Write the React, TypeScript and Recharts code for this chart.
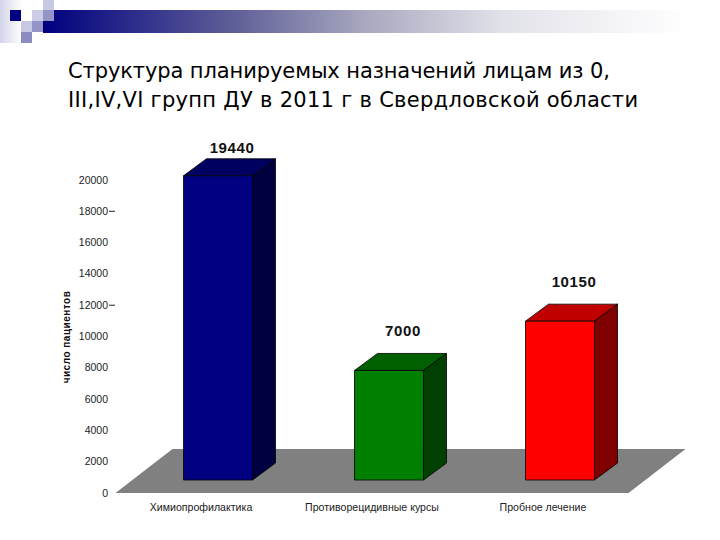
import { BarChart, Bar, XAxis, YAxis, ReferenceArea, LabelList } from "recharts";

const categories = ["Химиопрофилактика", "Противорецидивные курсы", "Пробное лечение"];
const patients = [19440, 7000, 10150];
const yTicks = [0, 2000, 4000, 6000, 8000, 10000, 12000, 14000, 16000, 18000, 20000];
const markedTicks = [12000, 18000];
const titleLines = [
  "Структура планируемых назначений лицам из 0,",
  "III,IV,VI групп ДУ в 2011 г в Свердловской области",
];

const front = ["#000080", "#008000", "#ff0000"];
const top = ["#000060", "#006000", "#c00000"];
const side = ["#000040", "#004000", "#800000"];

const data = categories.map((name, i) => ({ name, patients: patients[i] }));

// axis labels sit on the floor's front edge, bars stand 13px further back
const PX_PER_UNIT = 313 / 20000;
const BASE_SHIFT = 13 / PX_PER_UNIT;
const LABEL_SHIFT = 13;
const DEPTH_X = 23;
const DEPTH_Y = 17;
const FLOOR_TOP = 2811;

function Bar3D(props: any) {
  const { x, y, width, height, index } = props;
  const r = x + width;
  const b = y + height;
  return (
    <g stroke="#000" strokeWidth={0.8} strokeLinejoin="round">
      <polygon
        points={`${x},${y} ${x + DEPTH_X},${y - DEPTH_Y} ${r + DEPTH_X},${y - DEPTH_Y} ${r},${y}`}
        fill={top[index]}
      />
      <polygon
        points={`${r},${y} ${r + DEPTH_X},${y - DEPTH_Y} ${r + DEPTH_X},${b - DEPTH_Y} ${r},${b}`}
        fill={side[index]}
      />
      <rect x={x} y={y} width={width} height={height} fill={front[index]} />
    </g>
  );
}

function Floor(props: any) {
  const { x, y, width, height } = props;
  const b = y + height;
  return (
    <polygon
      points={`${x - 17},${b} ${x + 40},${y} ${x + width + 40},${y} ${x + width - 17},${b}`}
      fill="#808080"
    />
  );
}

function ValueLabel(props: any) {
  const { x, y, width, value } = props;
  // the tallest bar's label is squeezed against the top of the chart
  const gap = value > 15000 ? 23 : 34;
  return (
    <text
      x={x + width / 2 + 14}
      y={y - gap}
      textAnchor="middle"
      fontFamily="Liberation Sans"
      fontWeight="bold"
      fontSize={15}
      letterSpacing={0.6}
      fill="#111"
    >
      {value}
    </text>
  );
}

function YTick(props: any) {
  const { x, y, payload } = props;
  const ty = y + LABEL_SHIFT;
  return (
    <g>
      <text x={x} y={ty + 3.5} textAnchor="end" fontFamily="Liberation Sans" fontSize={10.5} fill="#222">
        {payload.value}
      </text>
      {markedTicks.includes(payload.value) && (
        <line x1={x + 1} x2={x + 7} y1={ty} y2={ty} stroke="#222" strokeWidth={1} />
      )}
    </g>
  );
}

function XTick(props: any) {
  const { x, y, payload } = props;
  return (
    <text x={x - 17} y={y + 10} textAnchor="middle" fontFamily="Liberation Sans" fontSize={10.6} fill="#222">
      {payload.value}
    </text>
  );
}

function Square({ x, y, w, h, c }: { x: number; y: number; w: number; h: number; c: string }) {
  return <div style={{ position: "absolute", left: x, top: y, width: w, height: h, background: c }} />;
}

export default function App() {
  return (
    <div style={{ position: "absolute", left: 0, top: 0, width: 720, height: 540, background: "#fff", overflow: "hidden" }}>
      {/* slide header */}
      <div
        style={{
          position: "absolute",
          left: 43,
          top: 10,
          width: 677,
          height: 23,
          background:
            "linear-gradient(to right, #000080 0%, #5e5e98 28%, #a6a6be 47%, #e2e2ea 68%, #ffffff 95%)",
        }}
      />
      <div
        style={{
          position: "absolute",
          left: 0,
          top: 0,
          width: 22,
          height: 43,
          background: "linear-gradient(to right, #d4d4ec, #ffffff)",
        }}
      />
      <Square x={10} y={10} w={11} h={11} c="#000080" />
      <Square x={43} y={0} w={11} h={10} c="#c8c8e2" />
      <Square x={43} y={10} w={11} h={11} c="#9494c6" />
      <Square x={32} y={10} w={11} h={11} c="#ccccE6" />
      <Square x={21} y={21} w={11} h={11} c="#c8c8e2" />
      <Square x={32} y={21} w={11} h={11} c="#9494c6" />
      <Square x={21} y={32} w={11} h={11} c="#8c8cc2" />
      {titleLines.map((line, i) => (
        <div
          key={line}
          style={{
            position: "absolute",
            left: 68,
            top: 58 + i * 29,
            fontFamily: "DejaVu Sans",
            fontSize: 21,
            letterSpacing: i === 0 ? -0.1 : 0.29,
            lineHeight: "26px",
            color: "#000",
            whiteSpace: "nowrap",
          }}
        >
          {line}
        </div>
      ))}

      <div style={{ position: "absolute", left: 0, top: 0 }}>
        <BarChart
          width={720}
          height={540}
          data={data}
          barSize={69}
          margin={{ top: 117.4, right: 74.5, bottom: 0, left: 52.5 }}
        >
          <XAxis dataKey="name" axisLine={false} tickLine={false} tick={<XTick />} interval={0} height={47} />
          <YAxis
            domain={[-BASE_SHIFT, 24000 - BASE_SHIFT]}
            ticks={yTicks}
            axisLine={false}
            tickLine={false}
            tickSize={0}
            tickMargin={24.5}
            width={80}
            tick={<YTick />}
            interval={0}
          />
          <ReferenceArea y1={-BASE_SHIFT} y2={FLOOR_TOP - BASE_SHIFT} shape={<Floor />} />
          <Bar dataKey="patients" shape={<Bar3D />} isAnimationActive={false}>
            <LabelList dataKey="patients" content={<ValueLabel />} />
          </Bar>
        </BarChart>
      </div>
      <div
        style={{
          position: "absolute",
          left: 66,
          top: 337,
          transform: "translate(-50%, -50%) rotate(-90deg)",
          fontFamily: "Liberation Sans",
          fontWeight: "bold",
          fontSize: 10,
          letterSpacing: 0.5,
          color: "#111",
          whiteSpace: "nowrap",
        }}
      >
        число пациентов
      </div>
    </div>
  );
}
